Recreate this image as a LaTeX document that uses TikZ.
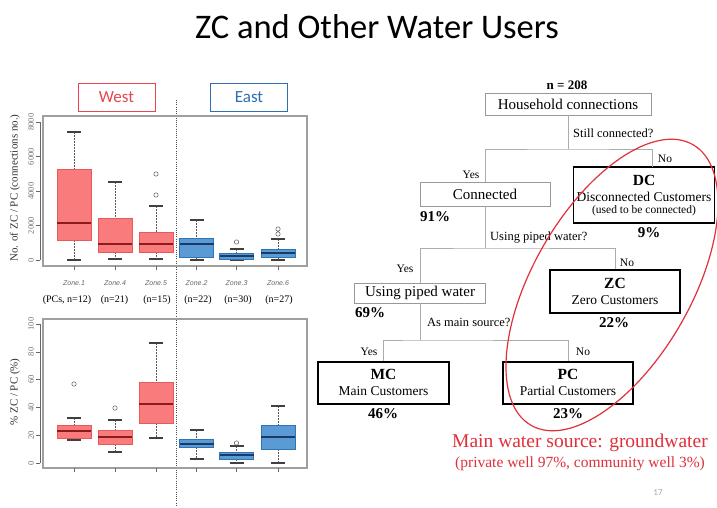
\documentclass[tikz,border=0pt]{standalone}
\usepackage{fontspec}
\setmainfont{Liberation Serif}
\newfontfamily\titlefont{Carlito}
\newfontfamily\tickfont{Liberation Sans}

\definecolor{redfill}{HTML}{F97B7B}
\definecolor{redline}{HTML}{E55A5A}
\definecolor{redmed}{HTML}{8E1B1B}
\definecolor{bluefill}{HTML}{5B9BD5}
\definecolor{blueline}{HTML}{2E75B6}
\definecolor{bluemed}{HTML}{1B3A66}
\definecolor{notered}{HTML}{E0303A}
\definecolor{westred}{HTML}{E8454F}
\definecolor{eastblue}{HTML}{2F6DB5}

\newcommand{\fsz}[1]{\fontsize{#1}{#1}\selectfont}

\tikzset{
  frame/.style={draw=gray!75, line width=1.1pt},
  axisline/.style={draw=gray!80!black, line width=0.6pt},
  ticklab/.style={text=gray!90!black, font=\fsz{8.5}, inner sep=0pt},
  axlab/.style={font=\fsz{11}, text=black!80, inner sep=0pt},
  zonelab/.style={font=\tickfont\itshape\fsz{7}, text=gray!80!black, inner sep=0pt},
  nlab/.style={font=\fsz{10}, inner sep=0pt},
  whisk/.style={draw=gray!70!black, line width=0.5pt, dash pattern=on 1.5pt off 1.5pt},
  capline/.style={draw=black!75, line width=1.1pt},
  redbox/.style={fill=redfill, draw=redline, line width=0.8pt},
  bluebox/.style={fill=bluefill, draw=blueline, line width=0.8pt},
  redmedian/.style={draw=redmed, line width=1.4pt},
  bluemedian/.style={draw=bluemed, line width=1.4pt},
  outlier/.style={draw=gray!70!black, line width=0.5pt},
  divider/.style={draw=black!70, line width=0.5pt, dash pattern=on 1pt off 1.2pt},
  regionbox/.style={draw=#1, line width=0.8pt, minimum width=77, minimum height=28, inner sep=0pt, font=\titlefont\fsz{17}, text=#1},
  thinbox/.style={draw=gray!80, line width=0.9pt, inner sep=0pt},
  thickbox/.style={draw=black, line width=1.8pt, inner sep=0pt},
  conn/.style={draw=gray!65, line width=1pt},
  treetext/.style={inner sep=0pt},
  boxtitle/.style={font=\bfseries\fsz{15.5}, inner sep=0pt},
  boxsub/.style={font=\fsz{13.5}, inner sep=0pt},
  pct/.style={font=\bfseries\fsz{15}, inner sep=0pt},
  yesno/.style={font=\fsz{11.5}, inner sep=0pt},
  question/.style={font=\fsz{12.5}, inner sep=0pt, anchor=west},
}

% one box-and-whisker: centre x, box top, box bottom, median, whisker top, whisker bottom, colour set
\newcommand{\zbox}[7]{%
  \draw[whisk] (#1,#5) -- (#1,#2);
  \draw[whisk] (#1,#3) -- (#1,#6);
  \draw[capline] (#1-7,#5) -- (#1+7,#5);
  \draw[capline] (#1-7,#6) -- (#1+7,#6);
  \path[#7box] (#1-17,#2) rectangle (#1+17,#3);
  \draw[#7median] (#1-17,#4) -- (#1+17,#4);
}

\begin{document}
\begin{tikzpicture}[x=1pt,y=-1pt]
\useasboundingbox[fill=white] (0,0) rectangle (717,507);

% heading
\node[font=\titlefont\fsz{34.5}, inner sep=0pt] (title) at (377,26.5) {ZC and Other Water Users};

% region labels
\node[regionbox=westred] (west) at (116.5,97) {West};
\node[regionbox=eastblue] (east) at (249,97) {East};

% divider between west and east zones
\draw[divider] (176,100) -- (176,507);

% ---------- upper plot: number of ZC / PC ----------
\draw[frame] (43,116) rectangle (307,266);
\draw[axisline] (40,260) -- (40,122);
\foreach \v/\yy [count=\i] in {0/260,2000/225.5,4000/191,6000/156.5,8000/122}{
  \draw[axisline] (40,\yy) -- (36,\yy);
  \node[ticklab, rotate=90] (ua\i) at (31,\yy) {\v};
}
\node[axlab, rotate=90] (uylab) at (15,188) {No. of ZC / PC (connections no.)};

\zbox{74}{169}{240}{223}{132}{260}{red}
\zbox{115}{218}{252}{244}{182}{259}{red}
\zbox{156}{232}{252}{244}{206}{259}{red}
\zbox{196.5}{238}{257}{244}{220}{260}{blue}
\zbox{236.5}{253}{259}{256}{249}{260}{blue}
\zbox{278}{249}{257}{253}{239}{260}{blue}
\draw[outlier] (156,174) circle (2.2) (156,195) circle (2.2)
               (236.5,242) circle (2.2) (278,229) circle (2.2) (278,234) circle (2.2);

\foreach \xx in {74,115,156,196.5,236.5,278}{
  \draw[axisline] (\xx,266) -- (\xx,270);
}
\foreach \xx/\nx/\z/\n [count=\i] in {74/67/1/{(PCs, n=12)},115/114.5/4/{(n=21)},156/157/5/{(n=15)},196.5/198/2/{(n=22)},236.5/238/3/{(n=30)},278/279/6/{(n=27)}}{
  \node[zonelab] (zl\i) at (\xx,283) {Zone.\z};
  \node[nlab] (nl\i) at (\nx,300) {\n};
}

% ---------- lower plot: share of ZC / PC ----------
\draw[frame] (43,319) rectangle (307,468);
\draw[axisline] (40,463) -- (40,324);
\foreach \v/\yy [count=\i] in {0/463,20/435.2,40/407.4,60/379.6,80/351.8,100/324}{
  \draw[axisline] (40,\yy) -- (36,\yy);
  \node[ticklab, rotate=90] (la\i) at (31,\yy) {\v};
}
\node[axlab, rotate=90] (lylab) at (15,392) {\% ZC / PC (\%)};

\zbox{74}{425}{438}{431}{418}{440}{red}
\zbox{115}{430}{444}{437}{420}{452}{red}
\zbox{156}{382}{423}{404}{343}{438}{red}
\zbox{196.5}{439}{447}{444}{430}{459}{blue}
\zbox{236.5}{452}{459}{455}{446}{463}{blue}
\zbox{278}{425}{449}{437}{406}{463}{blue}
\draw[outlier] (74,384) circle (2.2) (115,408) circle (2.2) (236.5,443) circle (2.2);

\foreach \xx in {74,115,156,196.5,236.5,278}{
  \draw[axisline] (\xx,468) -- (\xx,472);
}

% ---------- classification tree ----------
\node[font=\bfseries\fsz{13}, inner sep=0pt] (ntot) at (567,85) {n = 208};
\node[thinbox, minimum width=166, minimum height=22, font=\fsz{15}] (hh) at (568,104) {Household connections};

\node[thinbox, minimum width=130, minimum height=24, font=\fsz{15}] (cn) at (485,194) {Connected};
\node[thickbox, minimum width=141, minimum height=56] (dc) at (644,195) {};
\node[boxtitle] (dct) at (644,180) {DC};
\node[boxsub] (dcs) at (644,197) {Disconnected Customers};
\node[treetext, font=\fsz{11.5}] (dcn) at (644,211) {(used to be connected)};

\node[thinbox, minimum width=131, minimum height=20, font=\fsz{15}] (pw) at (420,293) {Using piped water};
\node[thickbox, minimum width=130, minimum height=43] (zc) at (615,291.5) {};
\node[boxtitle] (zct) at (615,283) {ZC};
\node[boxsub] (zcs) at (615,300) {Zero Customers};

\node[thickbox, minimum width=131, minimum height=42] (mc) at (383.5,383) {};
\node[boxtitle] (mct) at (383.5,374) {MC};
\node[boxsub] (mcs) at (383.5,391) {Main Customers};
\node[thickbox, minimum width=130, minimum height=42] (pc) at (568,383) {};
\node[boxtitle] (pct) at (568,374) {PC};
\node[boxsub] (pcs) at (568,391) {Partial Customers};

% junctions of the tree
\coordinate (j1) at (568,149);
\coordinate (dcin) at (652,167);
\coordinate (j2) at (485,248);
\coordinate (j3) at (420,340);

\draw[conn] (hh.south) -- (j1);
\draw[conn] (cn.north) |- (j1) -| (dcin);
\draw[conn] (cn.south) -- (j2);
\draw[conn] (pw.north) |- (j2) -| (zc.north);
\draw[conn] (pw.south) -- (j3);
\draw[conn] (mc.north) |- (j3) -| (pc.north);

\node[question] (q1) at (573,133) {Still connected?};
\node[question] (q2) at (490,238) {Using piped water?};
\node[question] (q3) at (427,322) {As main source?};

\node[yesno] (y1) at (471,175) {Yes};
\node[yesno] (n1) at (665,159) {No};
\node[yesno] (y2) at (405,269) {Yes};
\node[yesno] (n2) at (627,263) {No};
\node[yesno] (y3) at (369,352) {Yes};
\node[yesno] (n3) at (583,352) {No};

\node[pct] (p91) at (435,217) {91\%};
\node[pct] (p9) at (649,233) {9\%};
\node[pct] (p69) at (370,313) {69\%};
\node[pct] (p22) at (614,323) {22\%};
\node[pct] (p46) at (383,414) {46\%};
\node[pct] (p23) at (568,414) {23\%};

% groundwater group
\draw[notered, line width=1.2pt, rotate around={60:(612,285)}] (612,285) ellipse [x radius=162, y radius=79];
\node[text=notered, font=\fsz{19.5}, inner sep=0pt] (gw) at (580,443) {Main water source: groundwater};
\node[text=notered, font=\fsz{15.5}, inner sep=0pt] (gwd) at (580,464) {(private well 97\%, community well 3\%)};

\node[text=gray!70, font=\titlefont\fsz{9}, inner sep=0pt] (pg) at (658,493) {17};
\end{tikzpicture}
\end{document}
